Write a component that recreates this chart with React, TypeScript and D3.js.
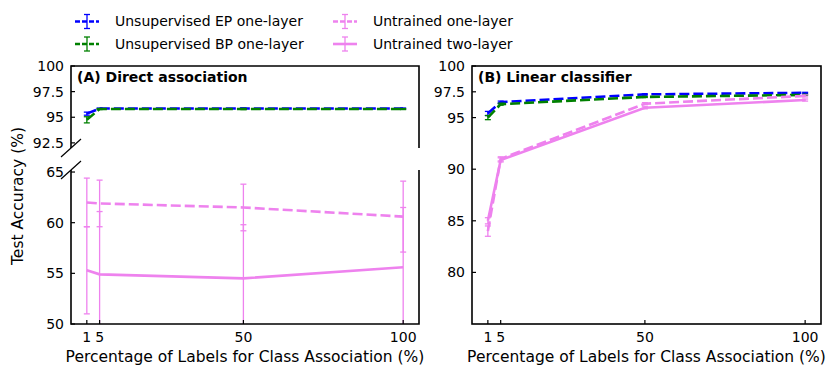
import * as d3 from "d3";

// x positions (% of labels) shared by every series
const labelPct = [1, 5, 50, 100];

// (A) Direct association
const epA = [95.35, 95.85, 95.85, 95.85];
const epAErr = [0.15, 0.05, 0.05, 0.05];
const bpA = [94.75, 95.8, 95.8, 95.8];
const bpAErr = [0.3, 0.05, 0.05, 0.05];
const oneA = [62.0, 61.9, 61.5, 60.6];
const oneAErr = [2.4, 2.3, 2.3, 3.5];
const twoA = [55.3, 54.9, 54.5, 55.6];
const twoAErr = [4.3, 6.2, 5.3, 5.9];

// (B) Linear classifier
const epB = [95.4, 96.5, 97.25, 97.4];
const epBErr = [0.2, 0.1, 0.05, 0.05];
const bpB = [95.0, 96.3, 97.0, 97.2];
const bpBErr = [0.2, 0.1, 0.05, 0.05];
const oneB = [84.0, 91.0, 96.35, 97.1];
const oneBErr = [0.5, 0.2, 0.1, 0.1];
const twoB = [85.0, 90.9, 95.95, 96.7];
const twoBErr = [0.3, 0.2, 0.1, 0.1];

const upperTicks = [92.5, 95, 97.5, 100];
const lowerTicks = [50, 55, 60, 65];
const bTicks = [80, 85, 90, 95, 97.5, 100];

const seriesNames = [
  "Unsupervised EP one-layer",
  "Unsupervised BP one-layer",
  "Untrained one-layer",
  "Untrained two-layer",
];

const FONT = "DejaVu Sans, sans-serif";
const W = 831;
const H = 377;

type Series = { vals: number[]; err: number[]; color: string; dash?: string };

const seriesA: Series[] = [
  { vals: epA, err: epAErr, color: "blue", dash: "10,4" },
  { vals: bpA, err: bpAErr, color: "green", dash: "10,4" },
  { vals: oneA, err: oneAErr, color: "violet", dash: "10,4" },
  { vals: twoA, err: twoAErr, color: "violet" },
];
const seriesB: Series[] = [
  { vals: epB, err: epBErr, color: "blue", dash: "10,4" },
  { vals: bpB, err: bpBErr, color: "green", dash: "10,4" },
  { vals: oneB, err: oneBErr, color: "violet", dash: "10,4" },
  { vals: twoB, err: twoBErr, color: "violet" },
];

function Marks({ id, x, y, series }: { id: string; x: any; y: any; series: Series[] }) {
  const [x0, x1] = x.range();
  const [y1, y0] = y.range();
  const line = d3
    .line<number>()
    .x((_, i) => x(labelPct[i]))
    .y((d) => y(d));
  return (
    <g>
      <clipPath id={id}>
        <rect x={x0} y={y0} width={x1 - x0} height={y1 - y0} />
      </clipPath>
      <g clipPath={`url(#${id})`}>
        {series.map((s, si) => (
          <g key={si}>
            <path d={line(s.vals) || ""} fill="none" stroke={s.color} strokeWidth={2.6} strokeDasharray={s.dash} />
            {s.vals.map((v, i) => {
              const cx = x(labelPct[i]);
              const lo = y(v - s.err[i]);
              const hi = y(v + s.err[i]);
              return (
                <g key={i} stroke={s.color} strokeWidth={1.3}>
                  <line x1={cx} x2={cx} y1={lo} y2={hi} />
                  <line x1={cx - 3} x2={cx + 3} y1={lo} y2={lo} />
                  <line x1={cx - 3} x2={cx + 3} y1={hi} y2={hi} />
                </g>
              );
            })}
          </g>
        ))}
      </g>
    </g>
  );
}

function YTicks({ x0, y, ticks }: { x0: number; y: any; ticks: number[] }) {
  return (
    <g>
      {ticks.map((t) => (
        <g key={t}>
          <line x1={x0} x2={x0 + 4} y1={y(t)} y2={y(t)} stroke="black" strokeWidth={1.2} />
          <text x={x0 - 7} y={y(t)} dy="0.35em" textAnchor="end" fontSize={14} fontFamily={FONT}>
            {String(t)}
          </text>
        </g>
      ))}
    </g>
  );
}

function XAxis({ x, yb }: { x: any; yb: number }) {
  const [x0, x1] = x.range();
  return (
    <g>
      {labelPct.map((t) => (
        <g key={t}>
          <line x1={x(t)} x2={x(t)} y1={yb} y2={yb - 4} stroke="black" strokeWidth={1.2} />
          <text x={x(t)} y={yb + 18} textAnchor="middle" fontSize={14} fontFamily={FONT}>
            {t}
          </text>
        </g>
      ))}
      <text x={(x0 + x1) / 2} y={yb + 38} textAnchor="middle" fontSize={15.5} fontFamily={FONT}>
        Percentage of Labels for Class Association (%)
      </text>
    </g>
  );
}

export default function App() {
  const xA = d3.scaleLinear().domain([-3.95, 104.95]).range([71, 419]);
  const xB = d3.scaleLinear().domain([-3.95, 104.95]).range([472, 821]);
  const yUp = d3.scaleLinear().domain([92, 100]).range([148, 66]);
  const yLo = d3.scaleLinear().domain([50, 65.2]).range([324, 170]);
  const yB = d3.scaleLinear().domain([75, 100]).range([324, 66]);

  const legendColors = ["blue", "green", "violet", "violet"];
  const legendDash = ["5,2", "5,2", "5,2", undefined];
  const legendPos = [
    [75, 21.5],
    [75, 44],
    [333, 21.5],
    [333, 44],
  ];

  const sw = 1.6;
  return (
    <svg width={W} height={H} style={{ position: "absolute", left: 0, top: 0, background: "white" }}>
      <Marks id="clipAU" x={xA} y={yUp} series={seriesA} />
      <Marks id="clipAL" x={xA} y={yLo} series={seriesA} />
      <Marks id="clipB" x={xB} y={yB} series={seriesB} />

      {/* spines, panel A is split into two boxes */}
      <path d="M71,148V66H419V148" fill="none" stroke="black" strokeWidth={sw} />
      <path d="M71,170V324H419V170" fill="none" stroke="black" strokeWidth={sw} />
      <line x1={61} y1={157} x2={81} y2={139} stroke="black" strokeWidth={1.2} />
      <line x1={61} y1={179} x2={81} y2={161} stroke="black" strokeWidth={1.2} />
      <rect x={472} y={66} width={349} height={258} fill="none" stroke="black" strokeWidth={sw} />

      <YTicks x0={71} y={yUp} ticks={upperTicks} />
      <YTicks x0={71} y={yLo} ticks={lowerTicks} />
      <YTicks x0={472} y={yB} ticks={bTicks} />
      <XAxis x={xA} yb={324} />
      <XAxis x={xB} yb={324} />

      <text x={77} y={82} fontSize={14} fontWeight="bold" fontFamily={FONT}>
        (A) Direct association
      </text>
      <text x={478} y={82} fontSize={14} fontWeight="bold" fontFamily={FONT}>
        (B) Linear classifier
      </text>

      <text
        transform="translate(18,196) rotate(-90)"
        textAnchor="middle"
        dy="0.35em"
        fontSize={15.5}
        fontFamily={FONT}
      >
        Test Accuracy (%)
      </text>

      {/* legend */}
      {seriesNames.map((name, i) => {
        const [lx, ly] = legendPos[i];
        const c = legendColors[i];
        const mid = lx + 12;
        return (
          <g key={name}>
            <line x1={lx} x2={lx + 24} y1={ly} y2={ly} stroke={c} strokeWidth={2.6} strokeDasharray={legendDash[i]} />
            <g stroke={c} strokeWidth={1.3}>
              <line x1={mid} x2={mid} y1={ly - 7} y2={ly + 7} />
              <line x1={mid - 3} x2={mid + 3} y1={ly - 7} y2={ly - 7} />
              <line x1={mid - 3} x2={mid + 3} y1={ly + 7} y2={ly + 7} />
            </g>
            <text x={lx + 40} y={ly} dy="0.35em" fontSize={14} fontFamily={FONT}>
              {name}
            </text>
          </g>
        );
      })}
    </svg>
  );
}
